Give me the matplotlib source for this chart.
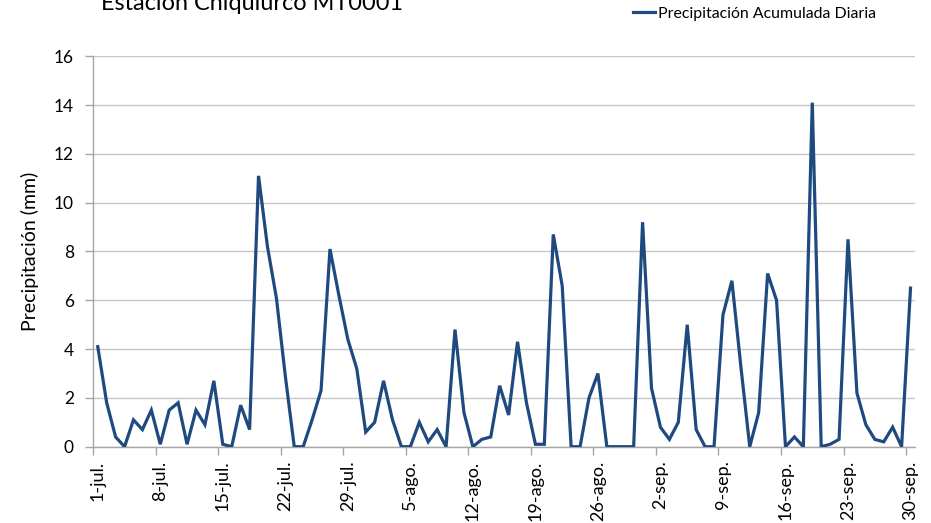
import matplotlib
matplotlib.use("Agg")
import matplotlib.pyplot as plt
import numpy as np

plt.rcParams['font.family'] = ['Lato', 'DejaVu Sans']

title = "Estación Chiquiurco MT0001"
series_name = "Precipitación Acumulada Diaria"
y_label = "Precipitación (mm)"

precip = [
    # julio (1-31)
    4.1, 1.8, 0.4, 0.0, 1.1, 0.7, 1.5, 0.1, 1.5, 1.8,
    0.1, 1.5, 0.9, 2.7, 0.1, 0.0, 1.7, 0.7, 11.1, 8.2,
    6.1, 2.9, 0.0, 0.0, 1.1, 2.3, 8.1, 6.2, 4.4, 3.2,
    0.6,
    # agosto (1-31)
    1.0, 2.7, 1.1, 0.0, 0.0, 1.0, 0.2, 0.7, 0.0, 4.8,
    1.4, 0.0, 0.3, 0.4, 2.5, 1.3, 4.3, 1.8, 0.1, 0.1,
    8.7, 6.6, 0.0, 0.0, 2.0, 3.0, 0.0, 0.0, 0.0, 0.0,
    9.2,
    # septiembre (1-30)
    2.4, 0.8, 0.3, 1.0, 5.0, 0.7, 0.0, 0.0, 5.4, 6.8,
    3.3, 0.0, 1.4, 7.1, 6.0, 0.0, 0.4, 0.0, 14.1, 0.0,
    0.1, 0.3, 8.5, 2.2, 0.9, 0.3, 0.2, 0.8, 0.0, 6.5,
]

tick_labels = ["1-jul.", "8-jul.", "15-jul.", "22-jul.", "29-jul.", "5-ago.",
               "12-ago.", "19-ago.", "26-ago.", "2-sep.", "9-sep.", "16-sep.",
               "23-sep.", "30-sep."]
y_ticks = [0, 2, 4, 6, 8, 10, 12, 14, 16]

fig = plt.figure(figsize=(9.31, 5.23), dpi=100)
ax = fig.add_axes([0.1002, 0.1459, 0.8826, 0.7465])

x = np.arange(len(precip))
line_color = "#1F4A7F"
ax.plot(x, precip, color=line_color, lw=2.3, solid_joinstyle='miter', zorder=3,
        label=series_name)

ax.set_xlim(-0.5, len(precip) - 0.5)
ax.set_ylim(0, 16)
ax.set_yticks(y_ticks)
ax.set_yticklabels([str(v) for v in y_ticks], fontsize=12.5)
ax.yaxis.grid(True, color="#c6c6c6", lw=1.0)
ax.set_axisbelow(True)

major_pos = np.arange(0, len(precip), 7)
ax.set_xticks(major_pos)
ax.set_xticklabels(tick_labels, rotation=90, fontsize=13)
ax.tick_params(axis='x', which='major', length=0, pad=10)
ax.set_xticks(np.arange(-0.5, len(precip) - 1, 7), minor=True)
ax.tick_params(axis='x', which='minor', length=6, color="#a6a6a6", width=1)
ax.tick_params(axis='y', length=6, color="#a6a6a6", width=1, pad=8)

for s in ['top', 'right']:
    ax.spines[s].set_visible(False)
for s in ['left', 'bottom']:
    ax.spines[s].set_color("#a6a6a6")
    ax.spines[s].set_linewidth(1)

ax.set_ylabel(y_label, fontsize=14)
ax.yaxis.set_label_coords(-0.066, 0.5)

fig.text(101 / 931, 1 - 10.5 / 523, title, fontsize=16.9, ha='left', va='baseline')

leg = fig.legend(loc='center left', bbox_to_anchor=(633 / 931, 1 - 13.5 / 523),
                 frameon=False, fontsize=11.4, handlelength=1.39, handletextpad=0.2,
                 borderpad=0, borderaxespad=0)

fig.savefig("out.png", dpi=100)
